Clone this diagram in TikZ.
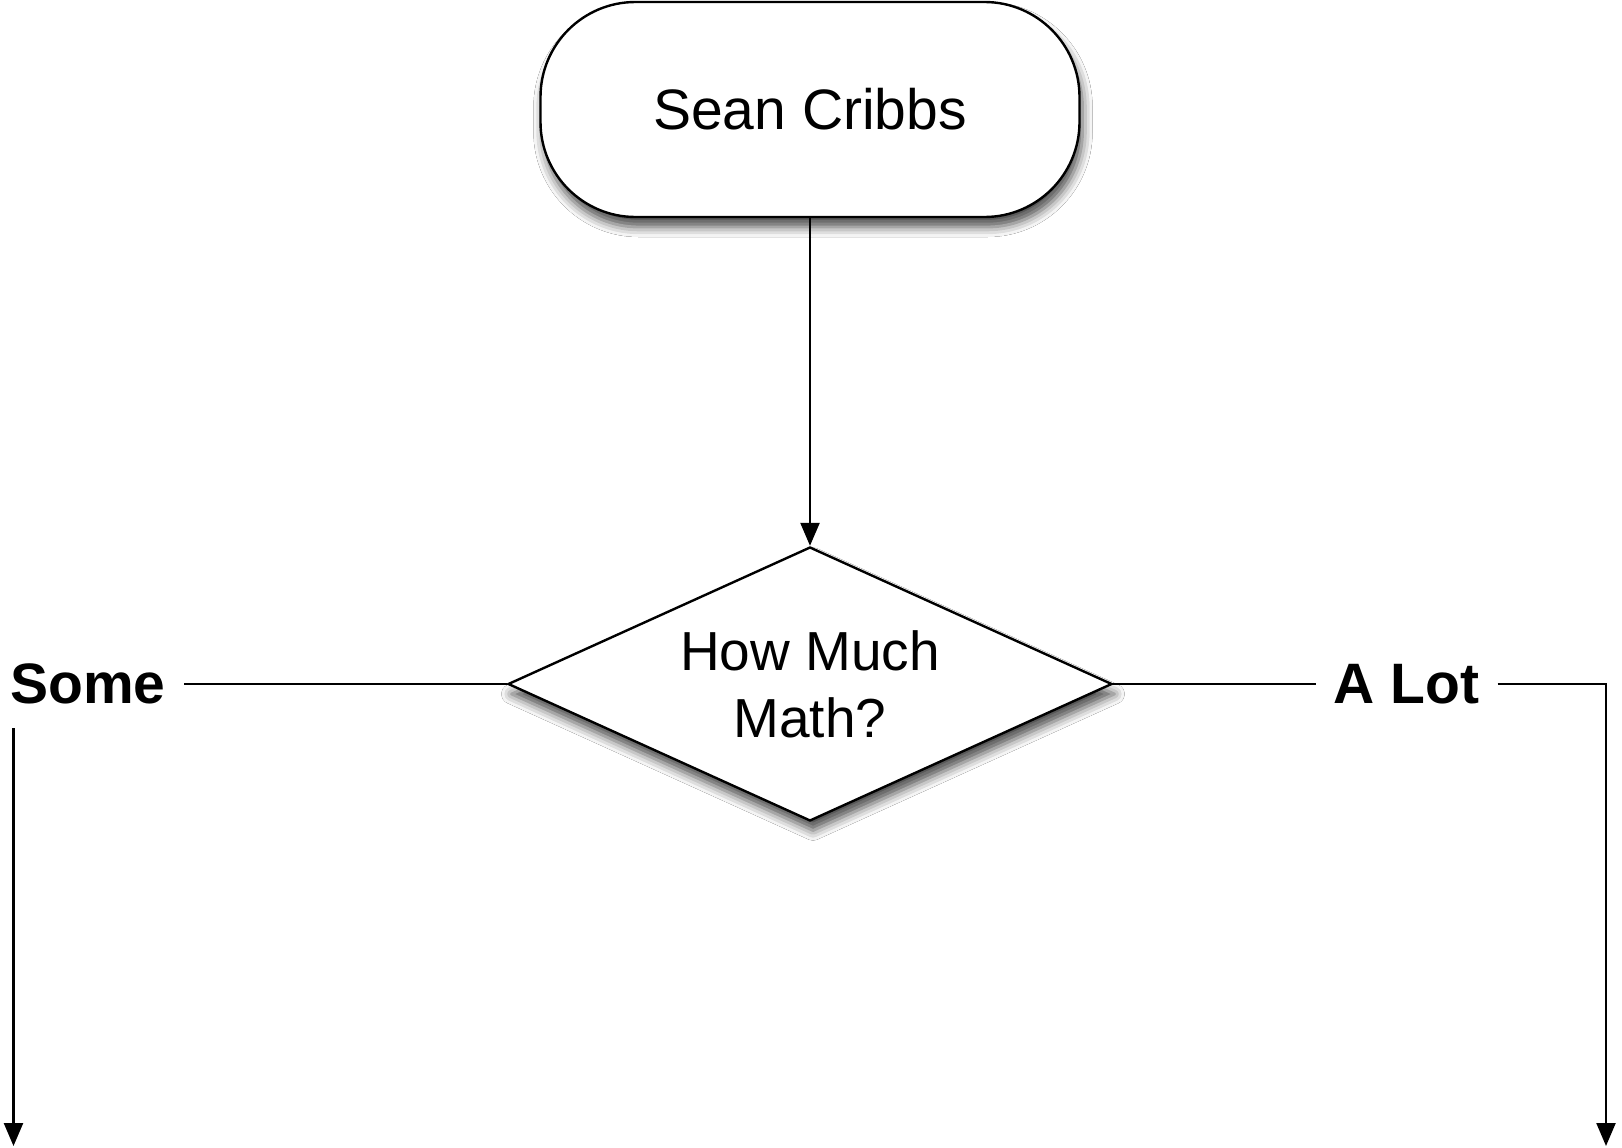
\documentclass[tikz,border=0pt]{standalone}
\usepackage{fontspec}
\setmainfont{Liberation Sans}
\usetikzlibrary{shapes.geometric,arrows.meta,shadows.blur}
\tikzset{
  conn/.style={line width=2.4pt, draw=black},
  arr/.style={conn, -{Triangle[width=19pt,length=23pt]}},
  myshadow/.style={blur shadow={shadow xshift=3pt, shadow yshift=-10pt, shadow blur radius=10pt, shadow opacity=70}},
  startbox/.style={draw=black, line width=2.4pt, fill=white, rounded corners=95pt,
    minimum width=539pt, minimum height=215pt, inner sep=0pt, myshadow,
    font=\fontsize{57pt}{68pt}\selectfont},
  decision/.style={draw=black, line width=2.4pt, fill=white, shape=diamond, aspect=2.2,
    minimum width=604pt, minimum height=274pt, inner sep=0pt, myshadow, align=center,
    font=\fontsize{55pt}{67pt}\selectfont},
  branchlabel/.style={inner xsep=18pt, inner ysep=24pt, font=\fontsize{57pt}{68pt}\selectfont\bfseries}
}
\begin{document}
\begin{tikzpicture}[x=1pt,y=-1pt]
  \useasboundingbox[fill=white] (0,0) rectangle (1622,1148);
  \node[startbox] (start) at (810,109.5) {Sean Cribbs};
  \node[decision] (q) at (810,684) {How Much\\Math?};
  \node[branchlabel] (some) at (88,684) {Some};
  \node[branchlabel] (alot) at (1406.5,684) {A Lot};
  \coordinate (leftend) at (13.5,1146);
  \coordinate (rightend) at (1606,1146);
  \draw[arr] (start.south) -- (q.north);
  \draw[conn] (q.west) -- (some.east);
  \draw[conn] (q.east) -- (alot.west);
  \draw[arr] (leftend |- some.south) -- (leftend);
  \draw[arr] (alot.east) -| (rightend);
\end{tikzpicture}
\end{document}
